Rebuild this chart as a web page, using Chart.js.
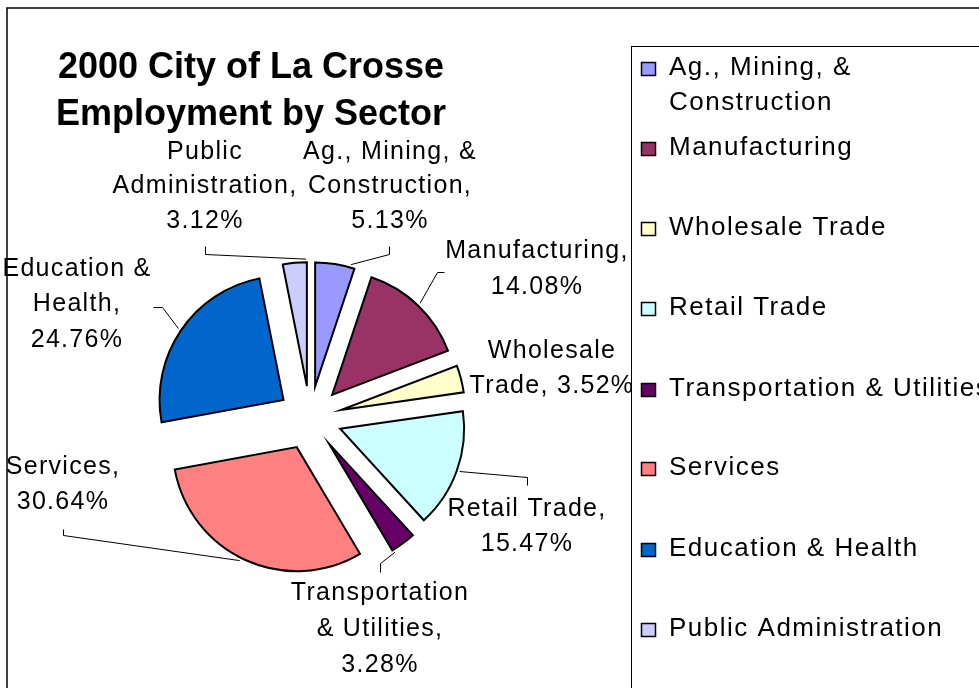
<!DOCTYPE html>
<html><head><meta charset="utf-8">
<script src="https://cdn.jsdelivr.net/npm/chart.js@4.4.1/dist/chart.umd.min.js"></script>
<style>html,body{margin:0;padding:0;background:#fff;}#wrap{position:relative;width:979px;height:688px;overflow:hidden;background:#fff}</style>
</head><body><div id="wrap"><canvas id="c"></canvas></div>
<script>
// ---- data ----
const categories = ["Ag., Mining, & Construction","Manufacturing","Wholesale Trade","Retail Trade","Transportation & Utilities","Services","Education & Health","Public Administration"];
const shares = [5.13, 14.08, 3.52, 15.47, 3.28, 30.64, 24.76, 3.12];
const sliceColors = ["#9999FF","#993366","#FFFFCC","#CCFFFF","#660066","#FF8080","#0066CC","#CCCCFF"];
const titleLines = ["2000 City of La Crosse","Employment by Sector"];
const legendLabelLines = categories.map((c,i)=> i===0 ? ["Ag., Mining, &","Construction"] : [c]);

// ---- layout ----
const FONT = '"Liberation Sans", Arial, sans-serif';
const EXPLODE = 32;
const labelLayout = [
  {lines:["Ag., Mining, &","Construction,","{p}"], x:390, y:152, lh:34.5, frac:0.89, path:[[389,254],[389,246]]},
  {lines:["Manufacturing,","{p}"], x:537, y:251, lh:36, frac:0.5, path:[[437,272],[444,272]]},
  {lines:["Wholesale","Trade, {p}"], x:552, y:351, lh:35, frac:0.5, path:null},
  {lines:["Retail Trade,","{p}"], x:527, y:509, lh:35.5, frac:0.5, path:[[527,477],[527,485]]},
  {lines:["Transportation","& Utilities,","{p}"], x:380, y:593, lh:36, frac:0.95, path:[[380,563],[380,572]]},
  {lines:["Services,","{p}"], x:63, y:467, lh:35.5, frac:0.52, path:[[63,535],[63,529]]},
  {lines:["Education &","Health,","{p}"], x:77, y:269, lh:35.5, frac:0.5, path:[[162,307],[153,307]]},
  {lines:["Public","Administration,","{p}"], x:205, y:152, lh:34.5, frac:0.97, path:[[205,254],[205,246]]}
];
const legendRowsY = [68,148,228,308,389,468,549,629];

const explodePlugin = {
  id:'explode',
  beforeDatasetsDraw(chart){
    const ctx = chart.ctx;
    chart.getDatasetMeta(0).data.forEach(arc=>{
      const mid=(arc.startAngle+arc.endAngle)/2;
      ctx.save();
      ctx.translate(Math.cos(mid)*EXPLODE, Math.sin(mid)*EXPLODE);
      arc.draw(ctx);
      ctx.restore();
    });
    return false;
  }
};

const decorPlugin = {
  id:'decor',
  afterDraw(chart){
    const ctx = chart.ctx;
    const arcs = chart.getDatasetMeta(0).data;
    ctx.save();
    // title
    ctx.fillStyle='#000';
    ctx.textAlign='center'; ctx.textBaseline='middle';
    ctx.font = 'bold 36px '+FONT;
    ctx.fillText(titleLines[0], 251, 68);
    ctx.fillText(titleLines[1], 251, 115);
    // leader lines
    ctx.strokeStyle='#000'; ctx.lineWidth=1;
    labelLayout.forEach((L,i)=>{
      if(!L.path) return;
      const arc = arcs[i];
      const mid=(arc.startAngle+arc.endAngle)/2;
      const a = arc.startAngle + L.frac*(arc.endAngle-arc.startAngle);
      const r = arc.outerRadius+3;
      const sx = arc.x + Math.cos(mid)*EXPLODE + Math.cos(a)*r;
      const sy = arc.y + Math.sin(mid)*EXPLODE + Math.sin(a)*r;
      ctx.beginPath(); ctx.moveTo(sx, sy);
      L.path.forEach(p=>ctx.lineTo(p[0]+0.5,p[1]+0.5));
      ctx.stroke();
    });
    // data labels
    ctx.font = '25px '+FONT;
    ctx.letterSpacing = '1.3px';
    labelLayout.forEach((L,i)=>{
      const pct = shares[i].toFixed(2)+'%';
      L.lines.forEach((t,k)=>{
        ctx.fillText(t.replace('{p}',pct), L.x, L.y + k*L.lh);
      });
    });
    // legend box
    ctx.letterSpacing = '0px';
    ctx.fillStyle='#fff';
    ctx.fillRect(631, 46, 400, 700);
    ctx.strokeStyle='#000'; ctx.lineWidth=1;
    ctx.strokeRect(631.5, 46.5, 400, 700);
    ctx.font = '26px '+FONT;
    ctx.letterSpacing = '1.5px';
    ctx.textAlign='left';
    legendLabelLines.forEach((lines,i)=>{
      const y = legendRowsY[i];
      ctx.fillStyle = sliceColors[i];
      ctx.fillRect(641.5, y-5.5, 14, 13);
      ctx.strokeStyle='#000'; ctx.lineWidth=1.5;
      ctx.strokeRect(641.5, y-5.5, 14, 13);
      ctx.fillStyle='#000';
      lines.forEach((t,k)=> ctx.fillText(t, 669, y + k*35));
    });
    ctx.letterSpacing = '0px';
    // outer border
    ctx.strokeStyle='#000'; ctx.lineWidth=1.5;
    ctx.strokeRect(7, 8, 1100, 800);
    ctx.restore();
  }
};

new Chart(document.getElementById('c'), {
  type:'pie',
  data:{ labels: categories, datasets:[{ data: shares, backgroundColor: sliceColors, borderColor:'#000', borderWidth:2, borderJoinStyle:'miter' }] },
  options:{
    responsive:true, maintainAspectRatio:false, animation:false, devicePixelRatio:1,
    radius:124,
    layout:{ padding:{ left:160, right:519, top:268, bottom:120 } },
    plugins:{ legend:{display:false}, title:{display:false}, tooltip:{enabled:false} },
    events:[]
  },
  plugins:[explodePlugin, decorPlugin]
});
</script></body></html>
